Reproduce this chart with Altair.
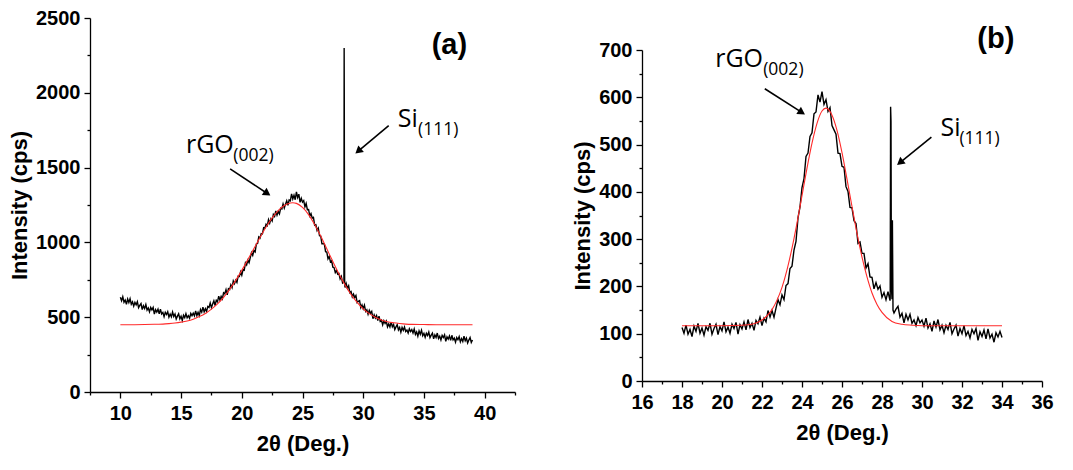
import altair as alt
import numpy as np
import pandas as pd

# ---------------- panel (a) ----------------
a_x0, a_dx = 10.0, 0.1
a_black = [
    634, 610, 637, 600, 615, 586, 621, 598, 624, 587,
    602, 574, 599, 583, 604, 564, 579, 591, 551, 577,
    558, 585, 548, 562, 536, 565, 549, 565, 521, 550,
    534, 553, 522, 554, 522, 532, 504, 533, 518, 536,
    500, 521, 502, 535, 505, 521, 488, 507, 523, 489,
    506, 478, 513, 497, 523, 496, 510, 493, 525, 510,
    527, 509, 542, 511, 533, 510, 551, 534, 567, 535,
    557, 538, 572, 565, 595, 564, 588, 609, 578, 613,
    603, 641, 614, 639, 623, 663, 657, 684, 650, 690,
    684, 716, 698, 743, 724, 747, 732, 774, 772, 803,
    780, 817, 814, 863, 849, 881, 864, 899, 931, 913,
    946, 937, 990, 993, 1037, 1029, 1059, 1057, 1098, 1095,
    1122, 1112, 1152, 1129, 1158, 1143, 1187, 1174, 1210, 1182,
    1207, 1191, 1228, 1224, 1257, 1229, 1256, 1278, 1248, 1284,
    1278, 1324, 1290, 1315, 1285, 1338, 1300, 1322, 1268, 1295,
    1269, 1279, 1238, 1261, 1219, 1220, 1177, 1192, 1163, 1167,
    1115, 1118, 1080, 1095, 1045, 1043, 991, 992, 989, 938,
    936, 890, 906, 871, 877, 834, 831, 798, 813, 787,
    792, 756, 772, 728, 734, 698, 724, 692, 710, 664,
    671, 636, 654, 631, 645, 598, 606, 611, 564, 582,
    556, 580, 539, 550, 520, 546, 526, 539, 490, 515,
    494, 511, 477, 507, 472, 480, 449, 476, 458, 474,
    435, 455, 435, 467, 436, 451, 417, 435, 450, 415,
    431, 400, 431, 412, 434, 404, 414, 394, 422, 404,
    417, 394, 421, 385, 401, 373, 408, 386, 413, 376,
    392, 366, 393, 378, 401, 363, 380, 393, 355, 382,
    365, 394, 358, 373, 348, 379, 364, 382, 338, 369,
    354, 375, 345, 379, 348, 360, 333, 364, 350, 370,
    335, 357, 338, 373, 343, 360, 327, 347, 364, 331,
    348,
]
a_si_x = [28.41, 28.43, 28.44, 28.45, 28.47]
a_si_y = [740, 2300, 2020, 1550, 745]
a_fit_x = [10, 11, 12, 13, 13.5, 14, 14.5, 15, 15.5, 16, 16.5, 17, 17.5, 18, 18.5,
           19, 19.5, 20, 20.5, 21, 21.5, 22, 22.5, 23, 23.5, 24, 24.2, 24.5, 25,
           25.5, 26, 26.5, 27, 27.5, 28, 28.5, 29, 29.5, 30, 30.5, 31, 31.5, 32,
           32.5, 33, 33.5, 34, 35, 36, 37, 38, 39]
a_fit_y = [450, 450, 451, 453, 454, 457, 461, 467, 475, 487, 504, 525, 554, 589, 633,
           686, 746, 813, 885, 959, 1033, 1103, 1164, 1213, 1247, 1263, 1265, 1261, 1234,
           1186, 1120, 1042, 957, 872, 790, 716, 652, 599, 556, 524, 500, 482, 470,
           463, 458, 454, 452, 451, 450, 450, 450, 450]
a_xticks = [7.5, 10, 12.5, 15, 17.5, 20, 22.5, 25, 27.5, 30, 32.5, 35, 37.5, 40, 42.5]
a_yticks = [0, 250, 500, 750, 1000, 1250, 1500, 1750, 2000, 2250, 2500]
a_main_t = ["rGO", "Si"]
a_main_x = [15.4, 32.85]
a_main_y = [1598, 1770]
a_sub_t = ["(002)", "(111)"]
a_sub_x = [19.3, 34.52]
a_sub_y = [1547, 1721]
a_arr_x1 = [19.04, 32.1]
a_arr_y1 = [1492, 1781]
a_arr_x2 = [22.1, 29.59]
a_arr_y2 = [1327, 1610]
a_arr_ang = [123.6, 230]
a_tag = ["(a)"]
a_tag_x = [37.1]
a_tag_y = [2322]

# ---------------- panel (b) ----------------
b_x0, b_dx = 18.0, 0.1
b_black = [
    113, 101, 118, 99, 109, 94, 116, 105, 122, 101,
    112, 97, 115, 107, 122, 99, 111, 120, 98, 115,
    106, 125, 104, 114, 101, 120, 111, 124, 99, 119,
    110, 125, 108, 130, 113, 122, 107, 128, 121, 135,
    117, 133, 125, 149, 135, 149, 135, 154, 172, 161,
    182, 172, 202, 206, 238, 243, 277, 295, 345, 368,
    409, 428, 475, 482, 517, 525, 565, 569, 605, 590,
    612, 585, 595, 570, 578, 540, 531, 522, 482, 481,
    454, 452, 411, 401, 367, 366, 339, 333, 291, 294,
    270, 270, 239, 248, 220, 219, 195, 208, 194, 201,
    177, 187, 172, 189, 170, 173, 144, 152, 158, 135,
    143, 123, 141, 129, 141, 122, 129, 117, 134, 123,
    129, 116, 133, 112, 121, 105, 127, 114, 130, 108,
    118, 102, 118, 109, 124, 100, 110, 118, 95, 111,
    100, 117, 96, 105, 91, 109, 100, 111, 86, 104,
    94, 108, 89, 110, 91, 99, 82, 102, 93, 105,
    92,
]
b_si_x = [28.41, 28.43, 28.45, 28.47, 28.52, 28.55]
b_si_y = [175, 580, 550, 200, 340, 150]
b_fit_x = [18, 19, 20, 21, 21.5, 22, 22.25, 22.5, 22.75, 23, 23.25, 23.5, 23.75, 24,
           24.25, 24.5, 24.75, 25, 25.2, 25.5, 25.75, 26, 26.25, 26.5, 26.75, 27,
           27.25, 27.5, 27.75, 28, 28.5, 29, 29.5, 30, 31, 32, 33, 34]
b_fit_y = [117, 117, 117, 118, 120, 129, 138, 151, 171, 198, 235, 281, 334, 392,
           450, 503, 545, 571, 577, 562, 530, 483, 427, 369, 312, 262,
           220, 186, 162, 145, 126, 120, 118, 117, 117, 117, 117, 117]
b_xticks = [16, 17, 18, 19, 20, 21, 22, 23, 24, 25, 26, 27, 28, 29, 30, 31, 32, 33, 34, 35, 36]
b_yticks = [0, 50, 100, 150, 200, 250, 300, 350, 400, 450, 500, 550, 600, 650, 700]
b_main_t = ["rGO", "Si"]
b_main_x = [19.66, 30.93]
b_main_y = [663, 518.5]
b_sub_t = ["(002)", "(111)"]
b_sub_x = [22.06, 31.87]
b_sub_y = [647, 501]
b_arr_x1 = [22.14, 30.47]
b_arr_y1 = [618, 516]
b_arr_x2 = [23.99, 28.9]
b_arr_y2 = [568, 462]
b_arr_ang = [122.3, 231.2]
b_tag = ["(b)"]
b_tag_x = [33.69]
b_tag_y = [722.5]

AX_FONT = "Liberation Sans"
ANN_FONT = "Open Sans"


def make_axis(values, major, title):
    test = f"datum.value % {major} === 0"
    return alt.Axis(
        values=values, title=title, format="d",
        labelExpr=f"({test}) ? datum.label : ''",
        tickSize={"condition": {"test": test, "value": 6}, "value": 3},
        labelOverlap=False, labelFlush=False, grid=False,
    )


def panel(x0, dx, black, si_x, si_y, fit_x, fit_y, xdom, ydom, xt, yt, xmaj, ymaj,
          w, h, main_t, main_x, main_y, sub_t, sub_x, sub_y,
          ax1, ay1, ax2, ay2, ang, tag, tag_x, tag_y):
    ax_x = make_axis(xt, xmaj, "2θ (Deg.)")
    ax_y = make_axis(yt, ymaj, "Intensity (cps)")
    sx = alt.Scale(domain=xdom, nice=False, zero=False)
    sy = alt.Scale(domain=ydom, nice=False, zero=False)

    def X(f):
        return alt.X(f"{f}:Q", scale=sx, axis=ax_x)

    def Y(f):
        return alt.Y(f"{f}:Q", scale=sy, axis=ax_y)

    grid_x = np.round(x0 + dx * np.arange(len(black)), 3)
    df_b = pd.DataFrame({"x": list(grid_x) + si_x, "y": black + si_y}).sort_values("x")
    df_f = pd.DataFrame({"x": fit_x, "y": fit_y})
    df_m = pd.DataFrame({"x": main_x, "y": main_y, "t": main_t})
    df_s = pd.DataFrame({"x": sub_x, "y": sub_y, "t": sub_t})
    df_a = pd.DataFrame({"x": ax1, "y": ay1, "x2": ax2, "y2": ay2, "ang": ang})
    df_t = pd.DataFrame({"x": tag_x, "y": tag_y, "t": tag})

    line_b = alt.Chart(df_b).mark_line(color="black", strokeWidth=1.4).encode(x=X("x"), y=Y("y"))
    line_f = alt.Chart(df_f).mark_line(color="#ff2a2a", strokeWidth=1.1, interpolate="monotone").encode(
        x=X("x"), y=Y("y"))
    txt_m = alt.Chart(df_m).mark_text(align="left", baseline="alphabetic", font=ANN_FONT,
                                      fontSize=25, color="black").encode(x=X("x"), y=Y("y"), text="t:N")
    txt_s = alt.Chart(df_s).mark_text(align="left", baseline="alphabetic", font=ANN_FONT,
                                      fontSize=17.5, color="black").encode(x=X("x"), y=Y("y"), text="t:N")
    arr = alt.Chart(df_a).mark_rule(color="black", strokeWidth=1.6).encode(
        x=X("x"), y=Y("y"), x2="x2:Q", y2="y2:Q")
    head = alt.Chart(df_a).mark_point(shape="triangle-up", filled=True, color="black", opacity=1,
                                      size=75).encode(
        x=X("x2"), y=Y("y2"), angle=alt.Angle("ang:Q", scale=None))
    tagm = alt.Chart(df_t).mark_text(align="center", baseline="middle", font=AX_FONT, fontWeight="bold",
                                     fontSize=29, color="black").encode(x=X("x"), y=Y("y"), text="t:N")
    return alt.layer(line_b, line_f, arr, head, txt_m, txt_s, tagm).properties(width=w, height=h)


panel_a = panel(a_x0, a_dx, a_black, a_si_x, a_si_y, a_fit_x, a_fit_y, [7.5, 42.5], [0, 2500],
                a_xticks, a_yticks, 5, 500, 425, 374,
                a_main_t, a_main_x, a_main_y, a_sub_t, a_sub_x, a_sub_y,
                a_arr_x1, a_arr_y1, a_arr_x2, a_arr_y2, a_arr_ang, a_tag, a_tag_x, a_tag_y)

panel_b = panel(b_x0, b_dx, b_black, b_si_x, b_si_y, b_fit_x, b_fit_y, [16, 36], [0, 700],
                b_xticks, b_yticks, 2, 100, 400, 331,
                b_main_t, b_main_x, b_main_y, b_sub_t, b_sub_x, b_sub_y,
                b_arr_x1, b_arr_y1, b_arr_x2, b_arr_y2, b_arr_ang, b_tag, b_tag_x, b_tag_y)

spacer = alt.Chart(pd.DataFrame({"v": [0]})).mark_point(opacity=0).properties(
    width=1, height=7, view=alt.ViewBackground(fill="white", stroke=None))

chart = alt.hconcat(
    panel_a, alt.vconcat(spacer, panel_b, spacing=0), spacing=55
).properties(
    padding={"left": 0, "top": 0, "right": 0, "bottom": 9}, background="white"
).configure_view(stroke=None).configure_axis(
    domainColor="black", domainWidth=1.3, tickColor="black", tickWidth=1.3,
    labelColor="black", titleColor="black", labelFont=AX_FONT, titleFont=AX_FONT,
    labelFontWeight="bold", titleFontWeight="bold", labelFontSize=20, titleFontSize=22,
).configure_axisX(labelPadding=5, titlePadding=10).configure_axisY(labelPadding=4, titlePadding=4)

chart.save("out.html", embed_options={"renderer": "svg", "actions": False})
